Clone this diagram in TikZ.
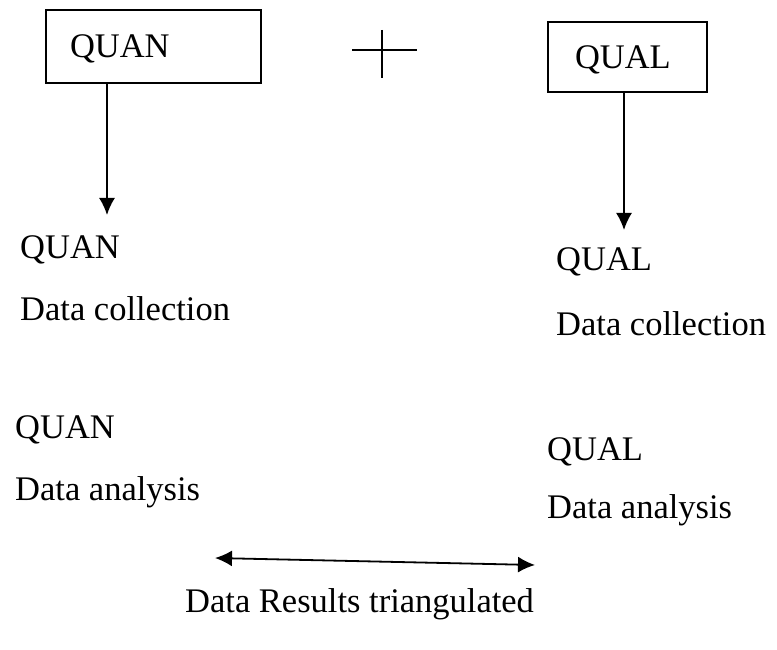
\documentclass[tikz,border=0pt]{standalone}
\usepackage{fontspec}
\setmainfont{Liberation Serif}
\usetikzlibrary{arrows.meta}
\begin{document}
\begin{tikzpicture}[x=1pt,y=-1pt,
  box/.style={draw, line width=1.8pt, text depth=0pt, align=left, font=\fontsize{34.5}{40}\selectfont},
  lbl/.style={inner sep=0pt, anchor=north west, align=left, font=\fontsize{34.5}{62}\selectfont},
  arr/.style={line width=1.8pt, -{Latex[length=17pt,width=16pt]}}]
\useasboundingbox (0,0) rectangle (777,650);
% the two boxes
\node[box, minimum height=73pt, inner xsep=24pt, text width=167pt] (quan) at (153.5,46.5) {QUAN};
\node[box, minimum height=70pt, inner xsep=27pt, text width=105pt] (qual) at (627.5,57) {QUAL};
\coordinate (plus) at (382,50);
\draw[line width=1.8pt]
([xshift=-30pt]plus) -- ([xshift=35pt]plus)
([yshift=20pt]plus) -- ([yshift=-28pt]plus);

% stages
\node[lbl] (quancoll) at (20,235) {QUAN\\Data collection};
\node[lbl] (qualcoll) at (556,247) {QUAL\\[3pt]Data collection};
\node[lbl] (quanana) at (15,415) {QUAN\\Data analysis};
\node[lbl] (qualana) at (547,437) {QUAL\\[-4pt]Data analysis};
\node[anchor=base west, inner sep=0pt, font=\fontsize{34.5}{40}\selectfont] (results) at (185,612) {Data Results triangulated};

\draw[arr] ([xshift=-46.5pt]quan.south) -- ([xshift=87pt,yshift=20pt]quancoll.north west);
\draw[arr] ([xshift=-3.5pt]qual.south) -- ([xshift=68pt,yshift=17pt]qualcoll.north west);

\coordinate (tl) at (215,558);
\coordinate (tr) at (535,565);
\draw[line width=1.8pt, {Latex[length=17pt,width=16pt]}-{Latex[length=17pt,width=16pt]}] (tl) -- (tr);
\end{tikzpicture}
\end{document}
